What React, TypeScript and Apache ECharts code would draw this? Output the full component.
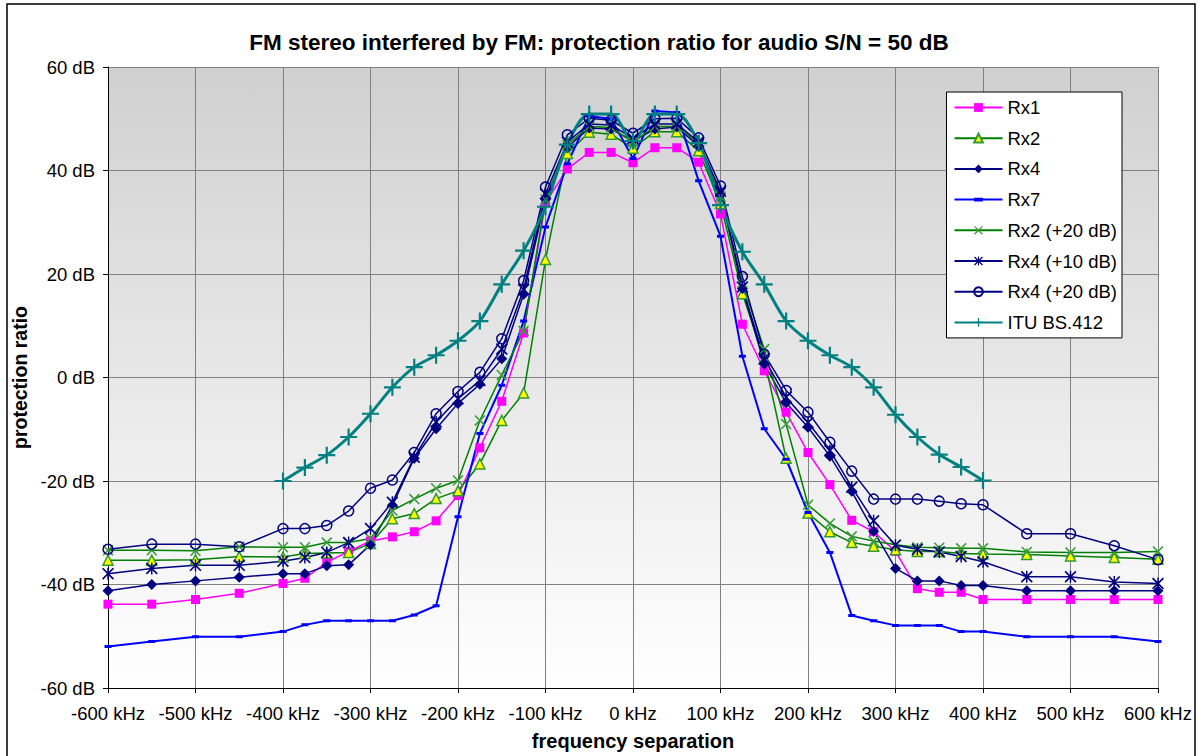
import React, { useEffect, useRef } from "react";
import * as echarts from "echarts";

const freqs = [-600, -550, -500, -450, -400, -375, -350, -325, -300, -275, -250, -225, -200, -175, -150, -125, -100, -75, -50, -25, 0, 25, 50, 75, 100, 125, 150, 175, 200, 225, 250, 275, 300, 325, 350, 375, 400, 450, 500, 550, 600];

const rx1 = [-43.8, -43.8, -42.9, -41.7, -39.8, -38.8, -35.7, -33.6, -31.6, -30.8, -29.8, -27.7, -22.8, -13.6, -4.6, 8.6, 33.8, 40.3, 43.5, 43.5, 41.5, 44.4, 44.4, 41.6, 31.6, 10.3, 1.3, -6.7, -14.5, -20.7, -27.6, -29.8, -33.6, -40.8, -41.5, -41.5, -42.9, -42.9, -42.9, -42.9, -42.9];
const rx2 = [-35.3, -35.3, -35.2, -34.6, -34.7, -34.0, -33.9, -33.8, -32.1, -27.3, -26.3, -23.4, -21.9, -16.7, -8.3, -3.0, 22.8, 43.3, 47.4, 47.0, 44.3, 47.5, 47.5, 43.8, 33.6, 16.2, 3.6, -15.6, -26.2, -29.8, -31.9, -32.6, -33.3, -33.6, -33.6, -34.0, -34.1, -34.2, -34.5, -34.8, -35.1];
const rx4 = [-41.2, -40.0, -39.3, -38.6, -37.9, -37.9, -36.4, -36.2, -32.3, -24.7, -15.6, -9.9, -5.0, -1.3, 3.6, 16.1, 34.5, 44.5, 48.2, 48.0, 45.7, 48.0, 48.4, 44.7, 35.5, 17.2, 2.6, -4.9, -9.6, -15.2, -22.0, -29.7, -36.9, -39.3, -39.3, -40.2, -40.2, -41.2, -41.2, -41.2, -41.2];
const rx7 = [-52.0, -51.0, -50.1, -50.1, -49.1, -47.8, -47.0, -47.0, -47.0, -47.0, -45.9, -44.1, -26.9, -10.8, -1.5, 10.9, 29.1, 41.3, 50.5, 50.0, 42.3, 51.5, 51.2, 38.0, 27.3, 4.1, -9.9, -15.8, -26.1, -33.8, -46.0, -47.0, -47.9, -47.9, -47.9, -49.1, -49.1, -50.1, -50.1, -50.1, -51.0];
const rx2p20 = [-33.4, -33.4, -33.5, -32.7, -32.8, -32.8, -31.9, -31.9, -31.1, -25.7, -23.5, -21.4, -19.9, -8.3, 0.5, 9.0, 34.4, 45.0, 48.5, 48.3, 45.5, 48.5, 48.5, 45.3, 35.0, 18.3, 5.5, -9.0, -24.6, -28.2, -30.7, -31.6, -32.3, -32.8, -32.9, -33.0, -33.0, -33.7, -33.8, -33.8, -33.6];
const rx4p10 = [-37.9, -36.9, -36.3, -36.3, -35.5, -34.8, -33.8, -31.9, -29.2, -24.1, -15.4, -8.6, -4.1, -0.6, 5.5, 17.0, 35.5, 45.5, 49.0, 48.8, 46.2, 49.0, 49.0, 45.5, 36.0, 17.5, 3.6, -3.8, -8.7, -14.1, -21.2, -27.7, -32.4, -33.2, -33.7, -34.6, -35.6, -38.5, -38.5, -39.5, -39.8];
const rx4p20 = [-33.2, -32.2, -32.2, -32.7, -29.2, -29.2, -28.6, -25.8, -21.4, -19.8, -14.5, -7.0, -2.7, 1.0, 7.5, 18.7, 36.8, 46.9, 50.1, 49.7, 47.2, 50.0, 50.1, 46.3, 37.0, 19.5, 4.5, -2.5, -6.7, -12.5, -18.1, -23.5, -23.5, -23.5, -23.9, -24.4, -24.6, -30.2, -30.2, -32.5, -35.2];

const ituFreqs = [-400, -375, -350, -325, -300, -275, -250, -225, -200, -175, -150, -125, -100, -75, -50, -25, 0, 25, 50, 75, 100, 125, 150, 175, 200, 225, 250, 275, 300, 325, 350, 375, 400];
const itu = [-20.0, -17.4, -15.0, -11.5, -7.0, -1.9, 2.0, 4.3, 7.1, 10.9, 18.0, 24.5, 33.0, 45.0, 50.9, 50.9, 45.7, 50.9, 50.9, 45.3, 33.3, 24.3, 18.0, 10.9, 7.1, 4.3, 2.0, -1.9, -7.2, -11.5, -14.9, -17.3, -19.9];

const seriesNames = ["Rx1", "Rx2", "Rx4", "Rx7", "Rx2 (+20 dB)", "Rx4 (+10 dB)", "Rx4 (+20 dB)", "ITU BS.412"];

const FONT = "Liberation Sans, Arial, sans-serif";

const X_PATH = "path://M0,1L1,0L10,9L9,10Z M9,0L10,1L1,10L0,9Z";
const AST_PATH = "path://M0,1L1,0L10,9L9,10Z M9,0L10,1L1,10L0,9Z M4.4,0H5.6V10H4.4Z";
const PLUS_PATH = "path://M0,6.1H14V7.9H0Z M6.1,0H7.9V14H6.1Z";
const DASH_PATH = "path://M0,0L0,0Z M0,2H7V5H0Z M7,7L7,7Z";

function pairs(xs: number[], ys: number[]) {
  return xs.map((x, i) => [x, ys[i]]);
}

export default function App() {
  const ref = useRef<HTMLDivElement>(null);
  useEffect(() => {
    if (!ref.current) return;
    const chart = echarts.init(ref.current, undefined, { renderer: "svg" });
    const navy = "#000080";
    const mk = (
      name: string,
      xs: number[],
      ys: number[],
      lineColor: string,
      lineWidth: number,
      symbol: string,
      symbolSize: any,
      itemStyle: any,
      extra: any = {}
    ) => ({
      name,
      type: "line",
      data: pairs(xs, ys),
      symbol,
      symbolSize,
      showSymbol: true,
      lineStyle: { color: lineColor, width: lineWidth },
      itemStyle,
      emphasis: { disabled: true },
      ...extra,
    });

    chart.setOption({
      animation: false,
      backgroundColor: "#ffffff",
      textStyle: { fontFamily: FONT },
      title: {
        text: "FM stereo interfered by FM: protection ratio for audio S/N = 50 dB",
        left: "center",
        top: 31,
        padding: 0,
        textStyle: { fontFamily: FONT, fontWeight: "bold", fontSize: 22.5, color: "#000" },
      },
      grid: {
        left: 108,
        right: 40,
        top: 67,
        bottom: 65,
        show: true,
        borderWidth: 0,
        backgroundColor: new echarts.graphic.LinearGradient(0, 0, 0, 1, [
          { offset: 0, color: "#d0d0d0" },
          { offset: 1, color: "#ffffff" },
        ]),
      },
      legend: {
        orient: "vertical",
        right: 76,
        top: 92,
        data: seriesNames,
        backgroundColor: "#ffffff",
        borderColor: "#000000",
        borderWidth: 1,
        padding: [6, 5, 6, 7],
        itemWidth: 48,
        itemHeight: 11,
        itemGap: 11.7,
        textStyle: { fontFamily: FONT, fontSize: 18.5, color: "#000", lineHeight: 19 },
      },
      xAxis: {
        type: "value",
        min: -600,
        max: 600,
        interval: 100,
        name: "frequency separation",
        nameLocation: "middle",
        nameGap: 43,
        nameTextStyle: { fontFamily: FONT, fontWeight: "bold", fontSize: 20, color: "#000" },
        axisLine: { show: true, onZero: false, lineStyle: { color: "#000", width: 1 } },
        axisTick: { show: true, length: 5, lineStyle: { color: "#000" } },
        axisLabel: {
          margin: 16,
          fontFamily: FONT,
          fontSize: 18.5,
          color: "#000",
          formatter: (v: number) => `${v} kHz`,
        },
        splitLine: { show: true, lineStyle: { color: "#808080", width: 1 } },
      },
      yAxis: {
        type: "value",
        min: -60,
        max: 60,
        interval: 20,
        name: "protection ratio",
        nameLocation: "middle",
        nameRotate: 90,
        nameGap: 76,
        nameTextStyle: { fontFamily: FONT, fontWeight: "bold", fontSize: 19.5, color: "#000" },
        axisLine: { show: true, onZero: false, lineStyle: { color: "#000", width: 1 } },
        axisTick: { show: true, length: 5, lineStyle: { color: "#000" } },
        axisLabel: {
          margin: 13,
          fontFamily: FONT,
          fontSize: 18.5,
          color: "#000",
          formatter: (v: number) => `${v} dB`,
        },
        splitLine: { show: true, lineStyle: { color: "#808080", width: 1 } },
      },
      graphic: [
        {
          type: "rect",
          shape: { x: 7, y: 4, width: 1188, height: 770 },
          style: { fill: "none", stroke: "#000", lineWidth: 1.5 },
          silent: true,
          z: 100,
        },
      ],
      series: [
        mk("Rx1", freqs, rx1, "#FF00FF", 1.5, "rect", 9, { color: "#FF00FF" }),
        mk("Rx2", freqs, rx2, "#008000", 1.5, "triangle", 10, {
          color: "#FFFF00",
          borderColor: "#339933",
          borderWidth: 1.5,
        }),
        mk("Rx4", freqs, rx4, navy, 1.5, "diamond", 11, { color: navy }),
        mk("Rx7", freqs, rx7, "#0000FF", 2, DASH_PATH, 7, { color: "#0000FF" }),
        mk("Rx2 (+20 dB)", freqs, rx2p20, "#008000", 1.5, X_PATH, 11, { color: "#3a9a3a" }),
        mk("Rx4 (+10 dB)", freqs, rx4p10, navy, 1.5, AST_PATH, 12, { color: navy }),
        mk("Rx4 (+20 dB)", freqs, rx4p20, navy, 1.5, "circle", 10, {
          color: "rgba(0,0,0,0)",
          borderColor: navy,
          borderWidth: 1.5,
        }),
        mk("ITU BS.412", ituFreqs, itu, "#008080", 3, PLUS_PATH, 17, { color: "#008080" }, { smooth: 0.3 }),
      ],
    });
    return () => chart.dispose();
  }, []);
  return (
    <div
      ref={ref}
      style={{ position: "absolute", left: 0, top: 0, width: 1198, height: 756 }}
    />
  );
}
